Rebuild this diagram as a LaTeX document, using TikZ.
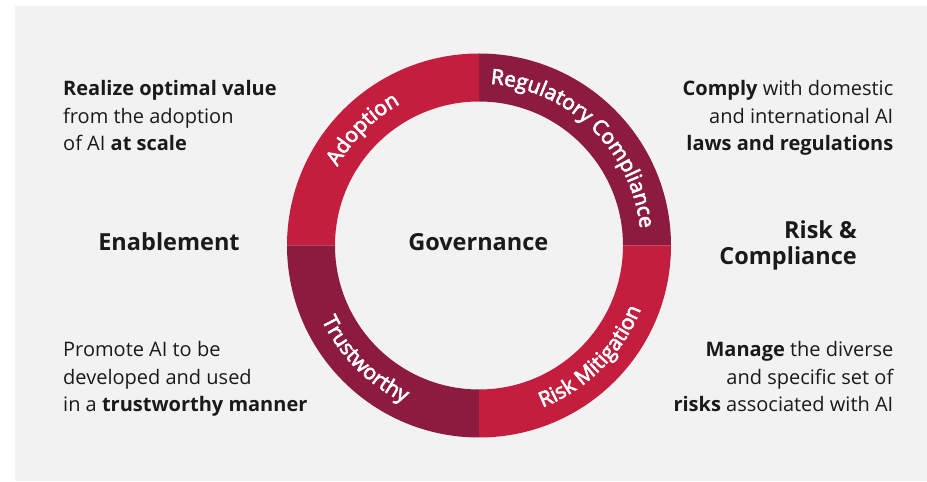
\documentclass[tikz,border=0pt]{standalone}
\usepackage{fontspec}
\setmainfont{Open Sans}
\newfontfamily\ringfam{Open Sans}[FakeBold=3]
\usetikzlibrary{decorations.text,calc}
\definecolor{bgray}{HTML}{F2F2F2}
\definecolor{ringred}{HTML}{C41E3F}
\definecolor{ringdark}{HTML}{8C1B3F}
\definecolor{ink}{HTML}{1A1A1A}
\tikzset{
  sidetext/.style={font=\fontsize{20}{27.5}\selectfont, text=ink, inner sep=0pt},
  bigtext/.style={font=\fontsize{23.5}{26}\selectfont\bfseries, text=ink, inner sep=0pt},
  ringlabel/.style={decorate, decoration={text along path, text align=center,
      text color=white, text format delimiters={|}{|}}},
}
\newcommand{\ringfnt}{\ringfam\fontsize{21}{24}\selectfont}
\begin{document}
\begin{tikzpicture}[x=1pt,y=1pt]
\useasboundingbox (0,0) rectangle (927,482);
\fill[bgray] (15,1) rectangle (927,476);
\coordinate (C) at (479,236.5);
% ring quadrants
\fill[ringdark] ($(C)+(0:192)$) arc[start angle=0,end angle=90,radius=192]
  -- ($(C)+(90:144)$) arc[start angle=90,end angle=0,radius=144] -- cycle;
\fill[ringred] ($(C)+(90:192)$) arc[start angle=90,end angle=180,radius=192]
  -- ($(C)+(180:144)$) arc[start angle=180,end angle=90,radius=144] -- cycle;
\fill[ringdark] ($(C)+(180:192)$) arc[start angle=180,end angle=270,radius=192]
  -- ($(C)+(270:144)$) arc[start angle=270,end angle=180,radius=144] -- cycle;
\fill[ringred] ($(C)+(270:192)$) arc[start angle=270,end angle=360,radius=192]
  -- ($(C)+(0:144)$) arc[start angle=360,end angle=270,radius=144] -- cycle;
% ring labels
\path[ringlabel, decoration={text={|\ringfnt|Adoption}}]
  ($(C)+(175:162)$) arc[start angle=175,end angle=95,radius=162];
\path[ringlabel, decoration={text={|\ringfnt|Regulatory Compliance}}]
  ($(C)+(106:162)$) arc[start angle=106,end angle=-14,radius=162];
\path[ringlabel, decoration={text={|\ringfnt|Risk Mitigation}}]
  ($(C)+(-95:174)$) arc[start angle=-95,end angle=5,radius=174];
\path[ringlabel, decoration={text={|\ringfnt|Trustworthy}}]
  ($(C)+(175:174)$) arc[start angle=175,end angle=275,radius=174];
% centre and side headings
\node[bigtext, anchor=base] (gov) at (478.3,231) {Governance};
\node[bigtext, anchor=base] (enab) at (169,231) {Enablement};
\node[bigtext, anchor=base east, align=right] (risk) at (857,217) {Risk \&\\Compliance};
% side descriptions
\node[sidetext, anchor=base west, align=left] (tl) at (63,331.3)
  {\textbf{Realize optimal value}\\from the adoption\\of AI \textbf{at scale}};
\node[sidetext, anchor=base east, align=right] (tr) at (893.5,331.3)
  {\textbf{Comply} with domestic\\and international AI\\\textbf{laws and regulations}};
\node[sidetext, anchor=base west, align=left] (bl) at (63,70.3)
  {Promote AI to be\\developed and used\\in a \textbf{trustworthy manner}};
\node[sidetext, anchor=base east, align=right] (br) at (893.5,70.3)
  {\textbf{Manage} the diverse\\and specific set of\\\textbf{risks} associated with AI};
\end{tikzpicture}
\end{document}
